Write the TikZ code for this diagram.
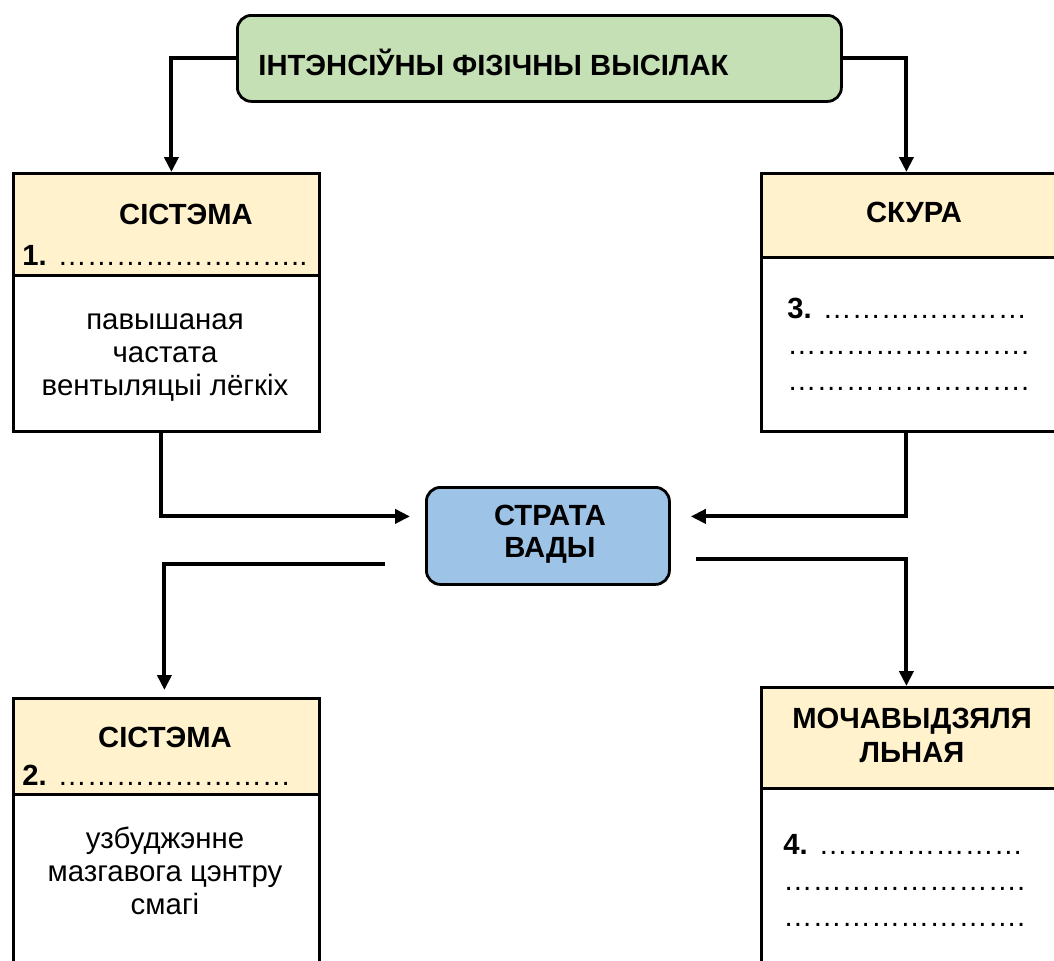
\documentclass[tikz,border=0pt]{standalone}
\usepackage{fontspec}
\setmainfont{Liberation Sans}
\usepackage{tikz}
\usetikzlibrary{arrows.meta, positioning}
\definecolor{topgreen}{HTML}{C5E0B4}
\definecolor{headyellow}{HTML}{FFF2CC}
\definecolor{stratablue}{HTML}{9DC3E6}
\tikzset{
  box/.style={draw, line width=1.4pt, anchor=north west, inner sep=0pt},
  head/.style={box, fill=headyellow},
  body/.style={box, fill=white},
  roundbox/.style={box, rounded corners=7pt},
  lbl/.style={font=\bfseries\fontsize{14.6}{17}\selectfont, align=center, inner sep=0pt},
  txt/.style={font=\fontsize{14.7}{16.5}\selectfont, align=center, inner sep=0pt},
  dots/.style={font=\fontsize{14.6}{18}\selectfont, align=left, anchor=west, inner sep=0pt},
  link/.style={line width=2pt, -{Triangle[length=7.5pt,width=7pt]}}
}

\begin{document}
\begin{tikzpicture}[x=0.5pt, y=-0.5pt]
      \useasboundingbox (0,0) rectangle (1054,960);
      \node[roundbox, fill=topgreen, minimum width=302pt, minimum height=43pt] (top) at (236,14) {};
      \node[lbl, anchor=west] (toptext) at (258,62) {ІНТЭНСІЎНЫ ФІЗІЧНЫ ВЫСІЛАК};

      \node[head, minimum width=153pt, minimum height=51pt] (h1) at (12,172) {};
      \node[body, minimum width=153pt, minimum height=78pt] (b1) at (12,274) {};
      \node[lbl] (s1) at (186,214) {СІСТЭМА};
      \node[dots] (n1) at (22,255) {\textbf{1.} ……………………..};
      \node[txt] (t1) at (165,358) {павышаная\\частата\\вентыляцыі лёгкіх};

      \node[head, minimum width=155pt, minimum height=42pt] (h3) at (760,172) {};
      \node[body, minimum width=155pt, minimum height=87pt] (b3) at (760,256) {};
      \node[lbl] (skin) at (914,212) {СКУРА};
      \node[dots] (n3) at (787,344) {\textbf{3.} …………………\\…………………….\\…………………….};

      \node[roundbox, fill=stratablue, minimum width=121.5pt, minimum height=48.5pt] (strata) at (425,486) {};
      \node[lbl, font=\bfseries\fontsize{14.6}{16}\selectfont] (stratatext) at (550,534) {СТРАТА\\ВАДЫ};

      \node[head, minimum width=153pt, minimum height=48pt] (h2) at (12,697) {};
      \node[body, minimum width=153pt, minimum height=94pt] (b2) at (12,793) {};
      \node[lbl] (s2) at (165,737) {СІСТЭМА};
      \node[dots] (n2) at (22,775) {\textbf{2.} ……………………};
      \node[txt] (t2) at (165,871) {узбуджэнне\\мазгавога цэнтру\\смагі};

      \node[head, minimum width=155pt, minimum height=50.5pt] (h4) at (760,686) {};
      \node[body, minimum width=155pt, minimum height=97pt] (b4) at (760,787) {};
      \node[lbl, font=\bfseries\fontsize{14.6}{17}\selectfont] (urine) at (912,735) {МОЧАВЫДЗЯЛЯ\\ЛЬНАЯ};
      \node[dots] (n4) at (783,880) {\textbf{4.} …………………\\…………………….\\…………………….};

      \draw[link] (top.west) -| ([xshift=2.5pt]h1.north);
      \draw[link] (top.east) -| ([xshift=-5pt]h3.north);
      \draw[link] ([xshift=-2.5pt]b1.south) |- ([xshift=-7.5pt, yshift=9.75pt]strata.west);
      \draw[link] ([xshift=-5pt]b3.south) |- ([xshift=10pt, yshift=9.75pt]strata.east);
      \draw[link] ([xshift=-20pt, yshift=-14.25pt]strata.west) -| ([xshift=-1pt, yshift=3.5pt]h2.north);
      \draw[link] ([xshift=12.5pt, yshift=-11.75pt]strata.east) -| ([xshift=-5pt]h4.north);
    \end{tikzpicture}
\end{document}
